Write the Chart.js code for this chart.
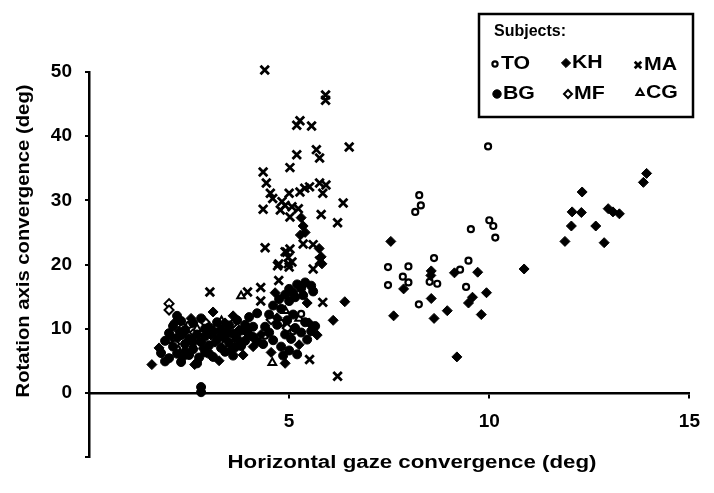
<!DOCTYPE html>
<html>
<head>
<meta charset="utf-8">
<title>Rotation axis convergence vs horizontal gaze convergence</title>
<script src="https://cdn.jsdelivr.net/npm/chart.js@4.4.1/dist/chart.umd.min.js"></script>
<style>
  body { margin: 0; background: #fff; }
  #wrap { width: 714px; height: 493px; }
</style>
</head>
<body>
<div id="wrap"><canvas id="chart" width="714" height="493"></canvas></div>
<script>
'use strict'

// tick labels shown on each axis
const xTicks = [5, 10, 15];
const yTicks = [0, 10, 20, 30, 40, 50];

const xTitle = 'Horizontal gaze convergence (deg)';
const yTitle = 'Rotation axis convergence (deg)';
const legendTitle = 'Subjects:';

// one list of [gaze, rotation axis] points per subject
const toPoints = [
  [9.97, 38.4], [8.25, 30.8], [8.29, 29.2], [8.15, 28.2], [10.0, 26.9], [10.1, 26.0],
  [10.15, 24.2], [9.54, 25.5], [8.62, 21.0], [7.47, 19.6], [7.98, 19.7], [9.48, 20.6],
  [7.84, 18.1], [7.98, 17.2], [7.47, 16.8], [8.51, 17.3], [8.70, 17.0], [9.42, 16.5],
  [8.24, 13.8], [9.27, 19.2],
  [2.0, 8.2], [2.3, 9.4], [2.5, 10.6], [2.8, 8.6], [3.0, 9.6], [3.2, 10.4], [3.4, 7.6],
  [2.6, 7.0], [3.7, 9.2], [2.2, 6.8], [4.4, 8.9], [4.8, 10.9], [5.1, 9.6], [5.3, 12.3]
];

const khPoints = [
  [7.54, 23.6], [8.55, 19.0], [8.54, 18.3], [9.13, 18.7], [9.71, 18.8], [10.87, 19.3],
  [7.86, 16.2], [9.93, 15.6], [9.58, 14.9], [9.48, 14.0], [8.55, 14.7], [8.95, 12.8],
  [7.61, 12.0], [8.62, 11.6], [9.80, 12.2], [9.19, 5.6],
  [13.93, 34.2], [13.85, 32.8], [12.32, 31.3], [12.07, 28.2], [12.30, 28.1], [12.97, 28.7],
  [13.09, 28.2], [13.25, 27.9], [12.05, 26.0], [12.66, 26.0], [11.89, 23.6], [12.87, 23.4],
  [6.39, 14.2], [6.1, 11.3], [5.3, 27.3], [5.35, 26.0], [5.4, 25.0], [5.28, 24.6],
  [5.75, 22.5], [5.8, 21.2], [5.82, 20.1], [4.3, 9.1], [4.55, 6.3], [4.7, 11.7],
  [5.25, 7.5], [5.5, 10.9], [5.7, 9.0], [4.65, 15.6], [5.45, 14.0], [4.9, 4.6],
  [1.57, 4.4], [2.64, 4.4], [3.1, 12.6], [1.75, 7.0], [2.05, 8.8], [2.35, 5.5],
  [2.55, 11.6], [2.85, 6.9], [3.05, 9.0], [3.25, 5.0], [3.4, 10.9], [3.55, 6.7],
  [3.75, 9.8], [3.85, 5.9], [4.1, 7.2], [2.15, 11.0], [2.45, 7.9], [3.15, 7.9],
  [3.6, 12.0], [2.25, 9.6]
];

const maPoints = [
  [4.39, 50.3], [5.91, 46.4], [5.91, 45.6], [5.27, 42.4], [5.19, 41.7], [5.56, 41.6],
  [6.5, 38.3], [5.19, 37.1], [5.68, 37.9], [5.76, 36.6], [5.02, 35.1], [4.35, 34.4],
  [4.43, 32.7], [4.53, 31.1], [4.59, 30.3], [4.35, 28.6], [4.82, 29.8], [5.0, 31.1],
  [4.9, 29.2], [5.07, 29.0], [4.78, 28.5], [5.27, 31.3], [5.39, 31.9], [5.51, 32.1],
  [5.76, 32.7], [5.92, 32.4], [5.84, 31.1], [5.02, 27.4], [5.23, 28.7], [5.80, 27.8],
  [6.21, 26.5], [6.35, 29.6], [4.40, 22.6], [4.90, 22.0], [5.02, 22.4], [4.98, 21.1],
  [5.35, 23.2], [5.6, 23.1], [4.71, 19.8], [5.0, 19.6], [5.6, 19.3], [5.76, 20.6],
  [4.74, 17.5], [4.29, 16.4], [3.96, 15.7], [3.02, 15.7], [4.29, 14.3], [5.84, 14.1],
  [5.51, 5.2], [6.21, 2.6], [4.74, 20.1], [4.98, 20.1], [4.94, 21.9], [5.07, 20.4]
];

const bgPoints = [
  [1.8, 6.2], [1.9, 8.1], [2.0, 5.4], [2.0, 9.3], [2.1, 7.2], [2.1, 10.4], [2.2, 6.1],
  [2.2, 8.6], [2.3, 4.8], [2.3, 11.2], [2.4, 7.6], [2.4, 9.8], [2.5, 5.9], [2.5, 8.4],
  [2.6, 10.9], [2.6, 6.8], [2.7, 9.1], [2.7, 4.6], [2.8, 7.9], [2.8, 11.6], [2.9, 8.8],
  [2.9, 6.3], [3.0, 10.2], [3.0, 7.4], [3.1, 9.5], [3.1, 5.6], [3.2, 8.3], [3.2, 11.0],
  [3.3, 7.0], [3.3, 9.9], [3.4, 8.6], [3.4, 6.4], [3.5, 10.5], [3.5, 7.8], [3.6, 9.2],
  [3.6, 5.8], [3.7, 8.4], [3.7, 11.3], [3.8, 9.7], [3.8, 7.3], [3.9, 10.6], [3.9, 8.1],
  [4.0, 9.0], [4.0, 11.8], [4.1, 8.7], [4.1, 10.3], [4.2, 12.4], [2.3, 9.0], [2.6, 8.0],
  [2.9, 10.0], [3.3, 8.9], [3.0, 6.1], [2.4, 6.4], [1.9, 4.9], [2.2, 12.0], [2.75, 5.5],
  [3.45, 9.4], [3.65, 7.1], [3.95, 9.5], [2.8, 0.9], [2.8, 0.1],
  [4.6, 13.6], [4.75, 14.6], [4.9, 15.3], [5.0, 16.2], [5.1, 15.6], [5.2, 16.9],
  [5.3, 16.3], [5.4, 17.2], [5.55, 16.7], [5.6, 15.8], [5.0, 14.3], [4.8, 13.1],
  [5.15, 14.9], [5.35, 15.2], [4.5, 12.2], [4.2, 8.0], [4.35, 7.6], [4.5, 9.4],
  [4.6, 8.2], [4.7, 10.6], [4.8, 7.2], [4.9, 9.1], [5.0, 6.6], [5.05, 8.4], [5.15, 10.1],
  [5.2, 6.0], [5.3, 9.4], [5.45, 8.3], [5.55, 9.6], [5.65, 10.4], [4.95, 11.3],
  [4.4, 10.3], [4.85, 5.8], [5.1, 12.2], [5.4, 11.0]
];

const mfPoints = [
  [2.0, 13.9], [2.0, 12.9], [2.35, 10.2], [2.6, 9.2], [2.9, 11.0], [3.3, 9.6],
  [3.5, 8.5], [2.5, 8.8], [3.6, 10.8], [4.55, 11.4], [4.95, 10.1], [2.15, 7.6]
];

const cgPoints = [
  [3.8, 15.1], [4.58, 4.7], [3.31, 11.2], [4.9, 12.8], [5.25, 11.6], [2.7, 10.0]
];

const fontFamily = '"Liberation Sans", Arial, Helvetica, sans-serif';

function toXY(points){
  return points.map(p => ({x: p[0], y: p[1]}));
}

// first dataset is drawn on top
const datasets = [
  {label: 'MA', data: toXY(maPoints), pointStyle: 'crossRot', pointRadius: 6,
    backgroundColor: '#000', borderColor: '#000', pointBorderWidth: 2.8, clip: false},
  {label: 'KH', data: toXY(khPoints), pointStyle: 'rectRot', pointRadius: 5,
    backgroundColor: '#000', borderColor: '#000', pointBorderWidth: 1, clip: false},
  {label: 'BG', data: toXY(bgPoints), pointStyle: 'circle', pointRadius: 4.5,
    backgroundColor: '#000', borderColor: '#000', pointBorderWidth: 1, clip: false},
  {label: 'TO', data: toXY(toPoints), pointStyle: 'circle', pointRadius: 3,
    backgroundColor: '#fff', borderColor: '#000', pointBorderWidth: 2.2, clip: false},
  {label: 'MF', data: toXY(mfPoints), pointStyle: 'rectRot', pointRadius: 4.5,
    backgroundColor: '#fff', borderColor: '#000', pointBorderWidth: 2, clip: false},
  {label: 'CG', data: toXY(cgPoints), pointStyle: 'triangle', pointRadius: 4.5,
    backgroundColor: '#fff', borderColor: '#000', pointBorderWidth: 2, clip: false}
];

// text squeezed/stretched to the width it has in the scan
function drawFitted(ctx, text, cx, cy, width, angle){
  ctx.save();
  ctx.translate(cx, cy);
  ctx.rotate(angle);
  const w = ctx.measureText(text).width;
  ctx.scale(width / w, 1);
  ctx.textAlign = 'center';
  ctx.textBaseline = 'middle';
  ctx.fillText(text, 0, 0);
  ctx.restore();
}

const titlesPlugin = {
  id: 'axisTitles',
  afterDraw(chart){
    const ctx = chart.ctx;
    ctx.save();
    ctx.fillStyle = '#000';
    ctx.font = 'bold 18px ' + fontFamily;
    drawFitted(ctx, xTitle, 412, 463, 369, 0);
    drawFitted(ctx, yTitle, 24, 241, 313, -Math.PI / 2);
    ctx.restore();
  }
};

// boxed legend, 3 x 2 grid
const legendSlots = {
  TO: [495, 64, 2.6], KH: [566, 63, 4.6], MA: [638, 65, 4.6],
  BG: [497, 94, 4.2], MF: [568, 94, 4.0], CG: [640, 93, 4.2]
};

const legendPlugin = {
  id: 'subjectLegend',
  afterDraw(chart){
    const ctx = chart.ctx;
    ctx.save();
    ctx.strokeStyle = '#000';
    ctx.lineWidth = 2.5;
    ctx.strokeRect(479, 14, 214, 103);
    ctx.fillStyle = '#000';
    ctx.font = 'bold 16px ' + fontFamily;
    ctx.textBaseline = 'middle';
    ctx.fillText(legendTitle, 494, 32);
    ctx.font = 'bold 19px ' + fontFamily;
    for (const ds of chart.data.datasets){
      const slot = legendSlots[ds.label];
      ctx.fillStyle = ds.backgroundColor;
      ctx.strokeStyle = ds.borderColor;
      ctx.lineWidth = ds.pointBorderWidth;
      Chart.helpers.drawPoint(ctx, {
        pointStyle: ds.pointStyle, radius: slot[2], rotation: 0, borderWidth: ds.pointBorderWidth
      }, slot[0], slot[1]);
      ctx.fillStyle = '#000';
      ctx.save();
      ctx.translate(slot[0] + 6, slot[1]);
      ctx.scale(1.12, 1);
      ctx.fillText(ds.label, 0, 0);
      ctx.restore();
    }
    ctx.restore();
  }
};

const tickFont = {family: fontFamily, size: 19, weight: 'bold'};

const config = {
  type: 'scatter',
  data: {datasets: datasets},
  options: {
    responsive: false,
    animation: false,
    layout: {padding: {top: 72, right: 13, bottom: 36, left: 0}},
    plugins: {
      legend: {display: false},
      tooltip: {enabled: false}
    },
    scales: {
      x: {
        type: 'linear',
        position: {y: 0},
        min: 0,
        max: 15,
        border: {display: true, color: '#000', width: 2.5},
        grid: {drawOnChartArea: false, drawTicks: true, tickLength: 4, color: '#000', lineWidth: 2},
        ticks: {
          stepSize: 5,
          padding: 14,
          color: '#000',
          font: tickFont,
          callback: v => xTicks.includes(v) ? String(v) : ''
        }
      },
      y: {
        type: 'linear',
        min: -10,
        max: 50,
        border: {display: true, color: '#000', width: 2.5},
        grid: {drawOnChartArea: false, drawTicks: true, tickLength: 4, color: '#000', lineWidth: 2},
        ticks: {
          stepSize: 10,
          padding: 13,
          color: '#000',
          font: tickFont,
          callback: v => yTicks.includes(v) ? String(v) : ''
        },
        afterFit: scale => { scale.width = 89; }
      }
    }
  },
  plugins: [titlesPlugin, legendPlugin]
};

new Chart(document.getElementById('chart'), config);
</script>
</body>
</html>
